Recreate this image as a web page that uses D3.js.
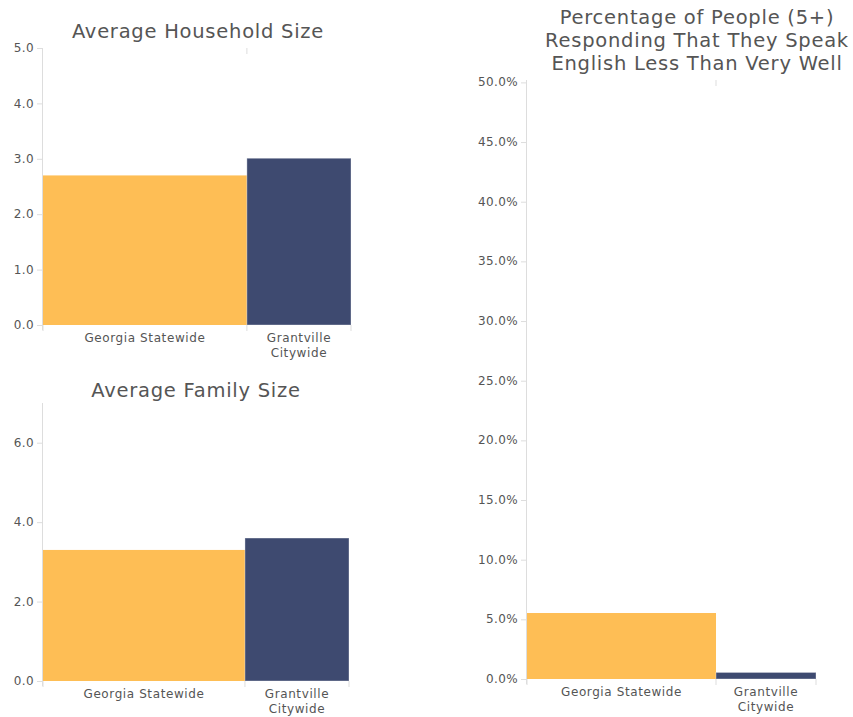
<!doctype html>
<html>
<head>
<meta charset="utf-8">
<title>Household size and English ability</title>
<script src="https://d3js.org/d3.v7.min.js"></script>
<style>
  body { margin: 0; background: #fff; }
  svg text { font-family: "DejaVu Sans", Verdana, sans-serif; fill: #555; }
</style>
</head>
<body>
<script>
// data
var categories = ["Georgia Statewide", "Grantville Citywide"];
var householdSize = [2.7, 3.01];
var familySize = [3.3, 3.6];
var englishLessWell = [5.53, 0.55]; // percent
var householdTicks = [0, 1, 2, 3, 4, 5];
var familyTicks = [0, 2, 4, 6];
var englishTicks = [0, 5, 10, 15, 20, 25, 30, 35, 40, 45, 50];

var colors = ["#FEBE55", "#3E4A70"];

var svg = d3.select("body").append("svg")
    .attr("width", 853).attr("height", 717);

// panels: left/right/top/bottom of the plot area, split = share of the first bar
var panels = [
  {title: ["Average Household Size"], titleX: 198, titleY: 38,
   values: householdSize, ticks: householdTicks, max: 5, fmt: d3.format(".1f"),
   left: 43, right: 351, top: 48, bottom: 325, split: 0.662, topTick: true},
  {title: ["Average Family Size"], titleX: 196, titleY: 397,
   values: familySize, ticks: familyTicks, max: 7, fmt: d3.format(".1f"),
   left: 43, right: 349, top: 403, bottom: 681, split: 0.66, topTick: false},
  {title: ["Percentage of People (5+)", "Responding That They Speak", "English Less Than Very Well"],
   titleX: 697, titleY: 24,
   values: englishLessWell, ticks: englishTicks, max: 50.2, fmt: function(d){ return d.toFixed(1) + "%"; },
   left: 527, right: 816, top: 80, bottom: 679, split: 0.654, topTick: true}
];

panels.forEach(drawPanel);

function drawPanel(p) {
  var g = svg.append("g");

  var y = d3.scaleLinear().domain([0, p.max]).range([p.bottom, p.top]);
  var x = d3.scaleLinear().domain([0, 1]).range([p.left, p.right]);
  var edges = [0, p.split, 1];

  // title
  var t = g.append("text")
      .attr("x", p.titleX).attr("y", p.titleY)
      .attr("text-anchor", "middle")
      .style("font-size", "19.5px")
      .style("letter-spacing", "0.75px");
  t.selectAll("tspan").data(p.title).enter().append("tspan")
      .attr("x", p.titleX)
      .attr("dy", function(d, i){ return i ? 23 : 0; })
      .text(function(d){ return d; });

  // bars
  g.selectAll(".bar").data(p.values).enter().append("rect")
      .attr("class", "bar")
      .attr("x", function(d, i){ return x(edges[i]); })
      .attr("width", function(d, i){ return x(edges[i + 1]) - x(edges[i]); })
      .attr("y", function(d){ return y(d); })
      .attr("height", function(d){ return p.bottom - y(d); })
      .attr("fill", function(d, i){ return colors[i]; })
      .attr("stroke", function(d, i){ return i ? "rgba(255,255,255,0.35)" : "none"; })
      .attr("stroke-width", 1);

  // y axis
  var yAxis = d3.axisLeft(y).tickValues(p.ticks).tickFormat(p.fmt).tickSize(6).tickPadding(3);
  var ya = g.append("g")
      .attr("transform", "translate(" + p.left + ",0)")
      .call(yAxis);
  ya.select(".domain").attr("stroke", "#ddd").attr("d", "M-0.5," + p.top + "V" + (p.bottom + 5));
  ya.selectAll(".tick line").attr("stroke", "#ddd");
  ya.selectAll(".tick text")
      .style("font-size", "12px")
      .style("letter-spacing", "0.4px")
      .attr("fill", "#555")
      .attr("dy", "0.3em");

  // x boundary ticks
  g.selectAll(".xtick").data(edges).enter().append("line")
      .attr("x1", function(d){ return x(d); })
      .attr("x2", function(d){ return x(d); })
      .attr("y1", p.bottom).attr("y2", p.bottom + 6)
      .attr("stroke", "#ddd");
  if (p.topTick) {
    g.append("line")
        .attr("x1", x(p.split)).attr("x2", x(p.split))
        .attr("y1", p.top).attr("y2", p.top + 6)
        .attr("stroke", "#ddd");
  }

  // category labels
  var lab = g.selectAll(".cat").data(categories).enter().append("text")
      .attr("class", "cat")
      .attr("text-anchor", "middle")
      .attr("y", p.bottom + 17)
      .style("font-size", "12px")
      .style("letter-spacing", "0.6px");
  lab.each(function(d, i){
    var cx = (x(edges[i]) + x(edges[i + 1])) / 2;
    var lines = i ? d.split(" ") : [d];
    d3.select(this).selectAll("tspan").data(lines).enter().append("tspan")
        .attr("x", cx)
        .attr("dy", function(l, j){ return j ? 15 : 0; })
        .text(function(l){ return l; });
  });
}
</script>
</body>
</html>
